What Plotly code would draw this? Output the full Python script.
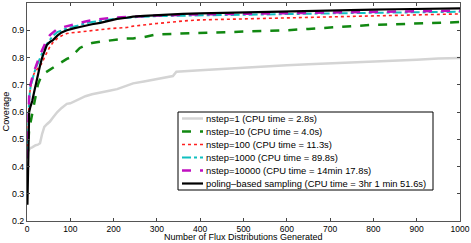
import plotly.graph_objects as go

x_vals = [1, 3, 5, 8, 12, 16, 20, 25, 30, 35, 40, 46, 53, 60, 70, 80, 92, 100, 110, 122,
          135, 150, 169, 190, 208, 230, 245, 270, 300, 337, 345, 360, 400, 450, 500, 550,
          600, 650, 700, 750, 800, 850, 900, 950, 1000]

nstep1 = [0.455, 0.46, 0.465, 0.468, 0.47, 0.475, 0.478, 0.48, 0.485, 0.52, 0.545, 0.555, 0.565,
          0.58, 0.6, 0.615, 0.63, 0.632, 0.64, 0.648, 0.658, 0.665, 0.67, 0.678, 0.684, 0.695,
          0.705, 0.712, 0.72, 0.732, 0.748, 0.75, 0.753, 0.758, 0.763, 0.767, 0.772, 0.775,
          0.778, 0.782, 0.786, 0.789, 0.792, 0.796, 0.798]
nstep10 = [0.43, 0.5, 0.54, 0.56, 0.59, 0.62, 0.65, 0.70, 0.72, 0.735, 0.742, 0.748, 0.755,
           0.765, 0.775, 0.785, 0.795, 0.80, 0.815, 0.835, 0.845, 0.853, 0.858, 0.862, 0.868,
           0.87, 0.87, 0.875, 0.885, 0.887, 0.888, 0.889, 0.89, 0.892, 0.894, 0.898, 0.90,
           0.905, 0.91, 0.915, 0.92, 0.922, 0.925, 0.928, 0.93]
nstep100 = [0.45, 0.6, 0.65, 0.69, 0.72, 0.74, 0.75, 0.76, 0.768, 0.78, 0.80, 0.82, 0.84,
            0.855, 0.87, 0.88, 0.888, 0.89, 0.892, 0.895, 0.898, 0.90, 0.902, 0.906, 0.908,
            0.91, 0.915, 0.92, 0.925, 0.93, 0.932, 0.934, 0.938, 0.94, 0.942, 0.944, 0.945,
            0.947, 0.949, 0.951, 0.952, 0.954, 0.956, 0.958, 0.96]
nstep1000 = [0.44, 0.6, 0.65, 0.69, 0.72, 0.74, 0.76, 0.78, 0.80, 0.82, 0.835, 0.85, 0.865,
             0.88, 0.893, 0.90, 0.907, 0.91, 0.915, 0.92, 0.925, 0.93, 0.935, 0.94, 0.943,
             0.946, 0.948, 0.95, 0.952, 0.953, 0.954, 0.955, 0.956, 0.957, 0.958, 0.959, 0.96,
             0.961, 0.962, 0.963, 0.964, 0.965, 0.966, 0.967, 0.968]
nstep10000 = [0.43, 0.62, 0.66, 0.70, 0.73, 0.75, 0.765, 0.79, 0.81, 0.827, 0.845, 0.865, 0.882,
              0.893, 0.905, 0.91, 0.915, 0.92, 0.924, 0.928, 0.932, 0.937, 0.942, 0.945, 0.947,
              0.949, 0.95, 0.952, 0.954, 0.955, 0.956, 0.957, 0.958, 0.959, 0.96, 0.961, 0.962,
              0.963, 0.964, 0.965, 0.966, 0.968, 0.969, 0.971, 0.972]
poling = [0.26, 0.55, 0.6, 0.62, 0.64, 0.67, 0.70, 0.74, 0.77, 0.80, 0.825, 0.846, 0.857,
          0.864, 0.88, 0.892, 0.90, 0.904, 0.908, 0.912, 0.918, 0.922, 0.927, 0.935, 0.942,
          0.946, 0.95, 0.953, 0.956, 0.958, 0.959, 0.96, 0.962, 0.964, 0.966, 0.968, 0.97,
          0.972, 0.973, 0.975, 0.976, 0.977, 0.978, 0.979, 0.98]

names = ["nstep=1 (CPU time = 2.8s)",
         "nstep=10 (CPU time = 4.0s)",
         "nstep=100 (CPU time = 11.3s)",
         "nstep=1000 (CPU time = 89.8s)",
         "nstep=10000 (CPU time = 14min 17.8s)",
         "poling\u2013based sampling (CPU time = 3hr 1 min 51.6s)"]

x_title = "Number of Flux Distributions Generated"
y_title = "Coverage"

series = [nstep1, nstep10, nstep100, nstep1000, nstep10000, poling]
styles = [
    dict(color="#d4d4d4", width=2.5, dash="solid"),
    dict(color="#118811", width=2.5, dash="dash"),
    dict(color="#ff2020", width=1.6, dash="dot"),
    dict(color="#10c0c0", width=2.0, dash="dashdot"),
    dict(color="#c010c0", width=2.5, dash="dash"),
    dict(color="#000000", width=2.2, dash="solid"),
]

FONT = "Liberation Sans, Arial, sans-serif"
W, H = 471, 243
ML, MR, MT, MB = 27, 11, 3, 22
PW, PH = W - ML - MR, H - MT - MB

def px_x(p):
    return (p - ML) / PW

def px_y(p):
    return (H - MB - p) / PH

fig = go.Figure()
for name, ys, st in zip(names, series, styles):
    fig.add_trace(go.Scatter(x=x_vals, y=ys, mode="lines", name=name, line=st,
                             showlegend=False))

# compact legend box (drawn in paper coords)
shapes = [dict(type="rect", xref="paper", yref="paper",
               x0=px_x(178), x1=px_x(433), y0=px_y(190), y1=px_y(112),
               fillcolor="white", line=dict(color="black", width=1), layer="above")]
annotations = []
for i, (name, st) in enumerate(zip(names, styles)):
    yc = 118.5 + 13 * i
    shapes.append(dict(type="line", xref="paper", yref="paper",
                       x0=px_x(182), x1=px_x(203), y0=px_y(yc), y1=px_y(yc),
                       line=st, layer="above"))
    annotations.append(dict(xref="paper", yref="paper", x=px_x(204), y=px_y(yc),
                            xanchor="left", yanchor="middle", text=name, showarrow=False,
                            font=dict(family=FONT, size=9.4, color="black")))

# axis titles
annotations.append(dict(xref="paper", yref="paper", x=0.5, y=px_y(243),
                        xanchor="center", yanchor="bottom", text=x_title, showarrow=False,
                        borderpad=0,
                        font=dict(family=FONT, size=9, color="black")))
annotations.append(dict(xref="paper", yref="paper", x=px_x(5.5), y=0.5, textangle=-90,
                        xanchor="center", yanchor="middle", text=y_title, showarrow=False,
                        font=dict(family=FONT, size=9.2, color="black")))

fig.update_layout(
    width=W, height=H,
    margin=dict(l=ML, r=MR, t=MT, b=MB),
    plot_bgcolor="white", paper_bgcolor="white",
    font=dict(family=FONT, size=9, color="#000"),
    showlegend=False,
    shapes=shapes,
    annotations=annotations,
)
fig.update_xaxes(range=[0, 1000], dtick=100, ticks="inside", ticklen=3, tickcolor="#444",
                 showline=True, linecolor="#555", linewidth=1, mirror="ticks",
                 showgrid=False, zeroline=False, automargin=False,
                 tickfont=dict(size=8.5))
fig.update_yaxes(range=[0.2, 1], dtick=0.1, ticks="inside", ticklen=3, tickcolor="#444",
                 showline=True, linecolor="#555", linewidth=1, mirror="ticks",
                 showgrid=False, zeroline=False, tickformat=".1~f", automargin=False,
                 tickfont=dict(size=8.8))

fig.write_html("out.html", config={"displayModeBar": False},
               post_script="document.body.style.margin='0';document.body.style.overflow='hidden';")
